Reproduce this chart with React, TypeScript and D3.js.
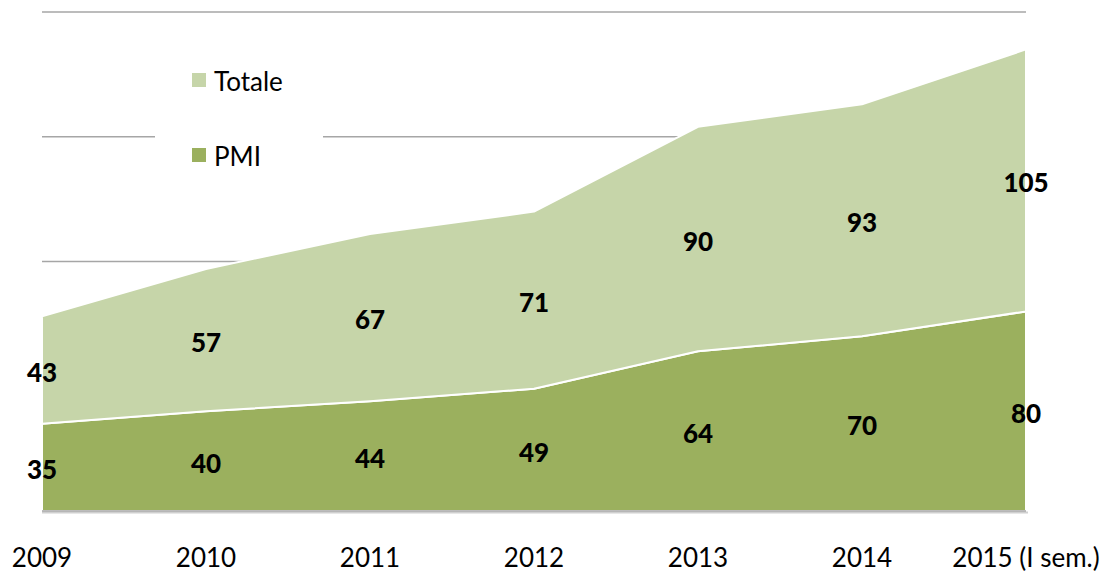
import React, { useRef, useEffect } from 'react';
import * as d3 from 'd3';

const categories = ['2009', '2010', '2011', '2012', '2013', '2014', '2015 (I sem.)'];
const pmi = [35, 40, 44, 49, 64, 70, 80];
const totale = [43, 57, 67, 71, 90, 93, 105];
const gridTicks = [50, 100, 150, 200];
const seriesNames = ['PMI', 'Totale'];
const seriesColors = ['#9bb05e', '#c6d5a9'];

export default function App() {
    const svgRef = useRef<SVGSVGElement | null>(null);

    useEffect(() => {
        const width = 1106;
        const height = 573;
        const font = 'Lato, "Open Sans", sans-serif';

        d3.select(svgRef.current).selectAll('*').remove();
        const svg = d3.select(svgRef.current).attr('width', width).attr('height', height);

        const x = d3.scalePoint<string>().domain(categories).range([42, 1026]);
        const y = d3.scaleLinear().domain([0, 200]).range([511, 12]);

        const rows = categories.map((c, i) => ({ cat: c, PMI: pmi[i], Totale: totale[i] }));
        const stacked = d3.stack<any>().keys(seriesNames)(rows);

        // gridlines
        svg.append('g')
            .selectAll('line')
            .data(gridTicks)
            .join('line')
            .attr('x1', x(categories[0])!)
            .attr('x2', x(categories[categories.length - 1])!)
            .attr('y1', (d) => y(d))
            .attr('y2', (d) => y(d))
            .attr('stroke', '#a6a6a6')
            .attr('stroke-width', 1.5);

        // legend background
        svg.append('rect')
            .attr('x', 155)
            .attr('y', 40)
            .attr('width', 168)
            .attr('height', 150)
            .attr('fill', 'white');

        const area = d3
            .area<any>()
            .x((d) => x(d.data.cat)!)
            .y0((d) => y(d[0]))
            .y1((d) => y(d[1]));

        svg.append('g')
            .selectAll('path')
            .data(stacked)
            .join('path')
            .attr('d', (d) => area(d as any))
            .attr('fill', (d, i) => seriesColors[i])
            .attr('stroke', 'white')
            .attr('stroke-width', 2)
            .attr('stroke-linejoin', 'round');

        // baseline
        svg.append('line')
            .attr('x1', x(categories[0])!)
            .attr('x2', x(categories[categories.length - 1])! + 2)
            .attr('y1', y(0) + 1.5)
            .attr('y2', y(0) + 1.5)
            .attr('stroke', '#d0d0d0')
            .attr('stroke-width', 2);
        svg.append('line')
            .attr('x1', x(categories[0])!)
            .attr('x2', x(categories[categories.length - 1])!)
            .attr('y1', y(0))
            .attr('y2', y(0))
            .attr('stroke', '#a6a6a6')
            .attr('stroke-width', 1.5);

        // data labels
        stacked.forEach((layer) => {
            svg.append('g')
                .selectAll('text')
                .data(layer)
                .join('text')
                .attr('x', (d: any) => x(d.data.cat)!)
                .attr('y', (d) => (y(d[0]) + y(d[1])) / 2)
                .attr('dy', '0.45em')
                .attr('text-anchor', 'middle')
                .attr('font-family', font)
                .attr('font-weight', 900)
                .attr('font-size', 26)
                .attr('fill', 'black')
                .text((d) => d[1] - d[0]);
        });

        // category labels
        svg.append('g')
            .selectAll('text')
            .data(categories)
            .join('text')
            .attr('x', (d) => x(d)!)
            .attr('y', 567)
            .attr('text-anchor', 'middle')
            .attr('font-family', font)
            .attr('font-size', 26)
            .attr('fill', 'black')
            .text((d) => d);

        // legend
        const legendItems = [
            { name: 'Totale', color: seriesColors[1] },
            { name: 'PMI', color: seriesColors[0] },
        ];
        const lg = svg.append('g');
        legendItems.forEach((d, i) => {
            const ly = 80 + i * 75;
            lg.append('rect')
                .attr('x', 192)
                .attr('y', ly - 7)
                .attr('width', 14)
                .attr('height', 14)
                .attr('fill', d.color);
            lg.append('text')
                .attr('x', 214)
                .attr('y', ly)
                .attr('dy', '0.42em')
                .attr('font-family', font)
                .attr('font-size', 26)
                .attr('fill', 'black')
                .text(d.name);
        });
    }, []);

    return <svg ref={svgRef} style={{ position: 'absolute', left: 0, top: 0 }}></svg>;
}
